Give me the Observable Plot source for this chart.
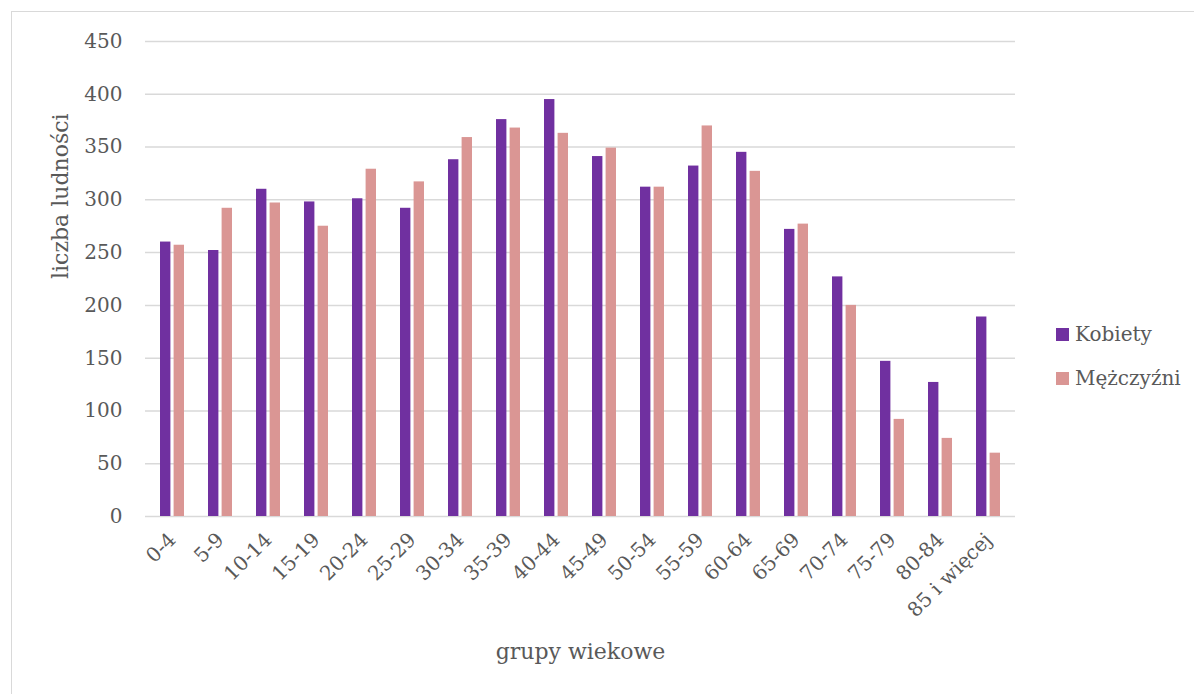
<!DOCTYPE html>
<html>
<head>
<meta charset="utf-8">
<script src="https://cdn.jsdelivr.net/npm/d3@7"></script>
<script src="https://cdn.jsdelivr.net/npm/@observablehq/plot@0.6"></script>
<style>
  body { margin: 0; background: #fff; font-family: "DejaVu Serif", serif; }
  #wrap { position: relative; width: 1194px; height: 694px; overflow: hidden; background: #fff; }
  #frame { position: absolute; left: 11px; top: 11px; width: 1300px; height: 800px; border: 1px solid #d9d9d9; box-sizing: border-box; }
  #chart { position: absolute; left: 0; top: 0; }
  #legend { position: absolute; left: 1056px; top: 318px; color: #595959; font-size: 20px; font-family: "DejaVu Serif", serif; }
  .item { display: flex; align-items: center; height: 32px; margin-bottom: 12px; }
  .sw { width: 13px; height: 13px; margin-right: 6px; }
</style>
</head>
<body>
<div id="wrap">
  <div id="frame"></div>
  <div id="chart"></div>
  <div id="legend"></div>
</div>
<script>
const groups = ["0-4","5-9","10-14","15-19","20-24","25-29","30-34","35-39","40-44","45-49","50-54","55-59","60-64","65-69","70-74","75-79","80-84","85 i więcej"];
const kobiety = [260,252,310,298,301,292,338,376,395,341,312,332,345,272,227,147,127,189];
const mezczyzni = [257,292,297,275,329,317,359,368,363,349,312,370,327,277,200,92,74,60];
const series = ["Kobiety","Mężczyźni"];
const colors = ["#7030A0","#DA9694"];
const yTicks = [0,50,100,150,200,250,300,350,400,450];
const xTitle = "grupy wiekowe";
const yTitle = "liczba ludności";

const rows = [];
groups.forEach((g, i) => {
  rows.push({group: g, series: series[0], value: kobiety[i]});
  rows.push({group: g, series: series[1], value: mezczyzni[i]});
});

const txt = "#595959";
const chart = Plot.plot({
  width: 1040,
  height: 694,
  marginLeft: 145,
  marginRight: 25,
  marginTop: 41,
  marginBottom: 178,
  style: {fontFamily: "DejaVu Serif, serif", fontSize: "20px", color: txt, background: "transparent"},
  x: {domain: groups, type: "band", paddingInner: 0.49, paddingOuter: 0.245},
  y: {domain: [0, 450]},
  color: {domain: series, range: colors},
  marks: [
    Plot.gridY(yTicks, {stroke: "#d9d9d9", strokeOpacity: 1, strokeWidth: 1.5}),
    Plot.barY(rows.filter(d => d.series === series[0]), {x: "group", y: "value", fill: "series", insetRight: 13.6}),
    Plot.barY(rows.filter(d => d.series === series[1]), {x: "group", y: "value", fill: "series", insetLeft: 13.6}),
    Plot.axisY(yTicks, {tickSize: 0, tickPadding: 23, label: null, fontSize: 20, fill: txt}),
    Plot.axisX({tickRotate: -45, tickSize: 0, tickPadding: 20, label: null, fontSize: 20, fill: txt}),
    Plot.text([xTitle], {frameAnchor: "bottom", dy: 142, fontSize: 22, fill: txt}),
    Plot.text([yTitle], {frameAnchor: "left", dx: -85, rotate: -90, fontSize: 22, fill: txt})
  ]
});
document.getElementById("chart").appendChild(chart);

const legend = document.getElementById("legend");
series.forEach((s, i) => {
  const item = document.createElement("div");
  item.className = "item";
  const sw = document.createElement("div");
  sw.className = "sw";
  sw.style.background = colors[i];
  const lb = document.createElement("span");
  lb.textContent = s;
  item.appendChild(sw);
  item.appendChild(lb);
  legend.appendChild(item);
});
</script>
</body>
</html>
